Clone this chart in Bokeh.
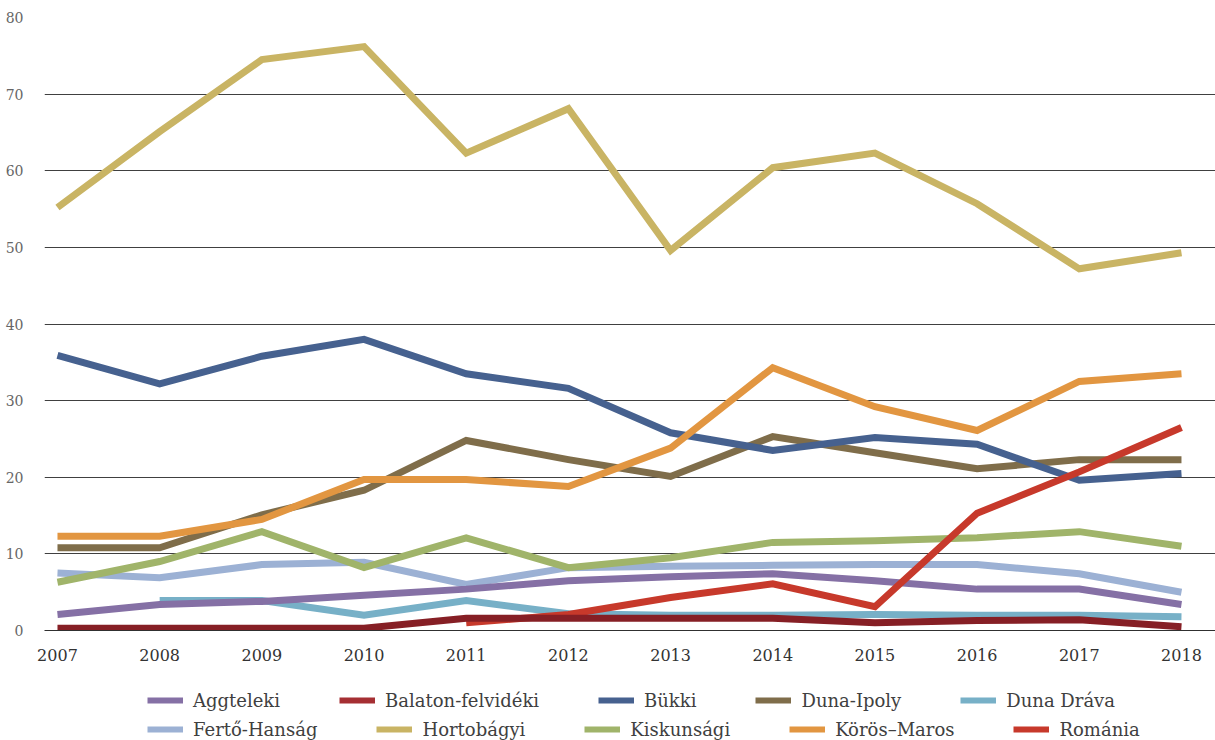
from bokeh.plotting import figure
from bokeh.layouts import column
from bokeh.models import Range1d, FixedTicker, Legend, LegendItem
from bokeh.embed import file_html
from bokeh.resources import INLINE

nan = float("nan")

years = [2007, 2008, 2009, 2010, 2011, 2012, 2013, 2014, 2015, 2016, 2017, 2018]

aggteleki = [2.1, 3.4, 3.8, 4.6, 5.4, 6.5, 7.0, 7.4, 6.5, 5.4, 5.4, 3.4]
balaton_felvideki = [0.3, 0.3, 0.3, 0.3, 1.6, 1.6, 1.6, 1.6, 1.0, 1.3, 1.4, 0.5]
bukki = [35.9, 32.2, 35.8, 38.0, 33.5, 31.6, 25.8, 23.5, 25.2, 24.3, 19.6, 20.5]
duna_ipoly = [10.8, 10.8, 15.1, 18.3, 24.8, 22.3, 20.1, 25.3, 23.2, 21.1, 22.3, 22.3]
duna_drava = [nan, 3.9, 3.9, 2.0, 3.9, 2.2, 2.0, 2.0, 2.1, 2.0, 2.0, 1.8]
ferto_hansag = [7.5, 6.9, 8.6, 8.9, 6.0, 8.2, 8.4, 8.5, 8.6, 8.6, 7.4, 5.0]
hortobagyi = [55.2, 65.1, 74.5, 76.2, 62.3, 68.1, 49.6, 60.4, 62.3, 55.7, 47.2, 49.3]
kiskunsagi = [6.3, 9.0, 12.9, 8.2, 12.1, 8.2, 9.5, 11.5, 11.7, 12.1, 12.9, 11.0]
koros_maros = [12.3, 12.3, 14.5, 19.7, 19.7, 18.8, 23.8, 34.3, 29.2, 26.1, 32.5, 33.5]
romania = [nan, nan, nan, nan, 1.0, 2.1, 4.3, 6.1, 3.1, 15.3, 20.7, 26.5]

y_ticks = [0, 10, 20, 30, 40, 50, 60, 70, 80]

names = ["Aggteleki", "Balaton-felvidéki", "Bükki", "Duna-Ipoly", "Duna Dráva",
         "Fertő-Hanság", "Hortobágyi", "Kiskunsági", "Körös–Maros", "Románia"]
series = [aggteleki, balaton_felvideki, bukki, duna_ipoly, duna_drava,
          ferto_hansag, hortobagyi, kiskunsagi, koros_maros, romania]
line_colors = ["#8570A5", "#861F25", "#46618F", "#7F6D4A", "#77B0C7",
               "#9CB1D4", "#C9B464", "#A0B46A", "#E29641", "#C7392B"]
legend_colors = ["#8570A5", "#A52F33", "#46618F", "#7F6D4A", "#77B0C7",
                 "#9CB1D4", "#C9B464", "#A0B46A", "#E29641", "#C7392B"]
draw_order = [4, 5, 0, 7, 3, 2, 8, 6, 9, 1]

FONT = "DejaVu Serif"

p = figure(width=1215, height=665, output_backend="svg", toolbar_location=None,
           x_range=Range1d(2006.873, 2018.333), y_range=Range1d(0, 80),
           min_border_left=44, min_border_right=0, min_border_top=17,
           min_border_bottom=35)
p.outline_line_color = None
p.background_fill_color = "white"
p.border_fill_color = "white"

p.xgrid.grid_line_color = None
p.ygrid.grid_line_color = "#404040"
p.ygrid.grid_line_width = 1
p.ygrid.ticker = FixedTicker(ticks=y_ticks)

p.xaxis.ticker = FixedTicker(ticks=years)
p.xaxis.axis_line_color = "#303030"
p.xaxis.axis_line_width = 1.2
p.xaxis.major_tick_line_color = None
p.xaxis.minor_tick_line_color = None
p.xaxis.major_label_standoff = 12
p.xaxis.major_label_text_font = FONT
p.xaxis.major_label_text_font_size = "16px"
p.xaxis.major_label_text_color = "#333333"

p.yaxis.ticker = FixedTicker(ticks=y_ticks)
p.yaxis.axis_line_color = None
p.yaxis.major_tick_line_color = None
p.yaxis.minor_tick_line_color = None
p.yaxis.major_label_standoff = 15
p.yaxis.major_label_text_font = FONT
p.yaxis.major_label_text_font_size = "14px"
p.yaxis.major_label_text_color = "#666666"

for i in draw_order:
    p.line(years, series[i], line_color=line_colors[i], line_width=7,
           line_join="miter", line_cap="butt")

# legend strip below the chart (its frame is aligned with the chart's frame)
lf = figure(width=1215, height=75, output_backend="svg", toolbar_location=None,
            x_range=Range1d(0, 1), y_range=Range1d(0, 1),
            min_border_left=44, min_border_right=0, min_border_top=0,
            min_border_bottom=0)
lf.axis.visible = False
lf.grid.grid_line_color = None
lf.outline_line_color = None
lf.background_fill_color = "white"
lf.border_fill_color = "white"

items = []
for i, name in enumerate(names):
    # off-screen stand-in line, only used for the legend swatch
    r = lf.line([-10, -9], [-10, -10], line_color=legend_colors[i], line_width=6)
    items.append(LegendItem(label=name, renderers=[r]))

def make_legend(its, y):
    return Legend(items=its, orientation="horizontal", location=(103, y),
                  glyph_width=36, glyph_height=22, label_standoff=10, spacing=59,
                  padding=0, margin=0, border_line_color=None,
                  background_fill_alpha=0, label_text_font=FONT,
                  label_text_font_size="18px", label_text_color="#404040",
                  label_height=22)

lf.add_layout(make_legend(items[:5], 29), "center")
lf.add_layout(make_legend(items[5:], 0), "center")

layout = column(p, lf, spacing=0)
open("out.html", "w").write(file_html(layout, INLINE))
